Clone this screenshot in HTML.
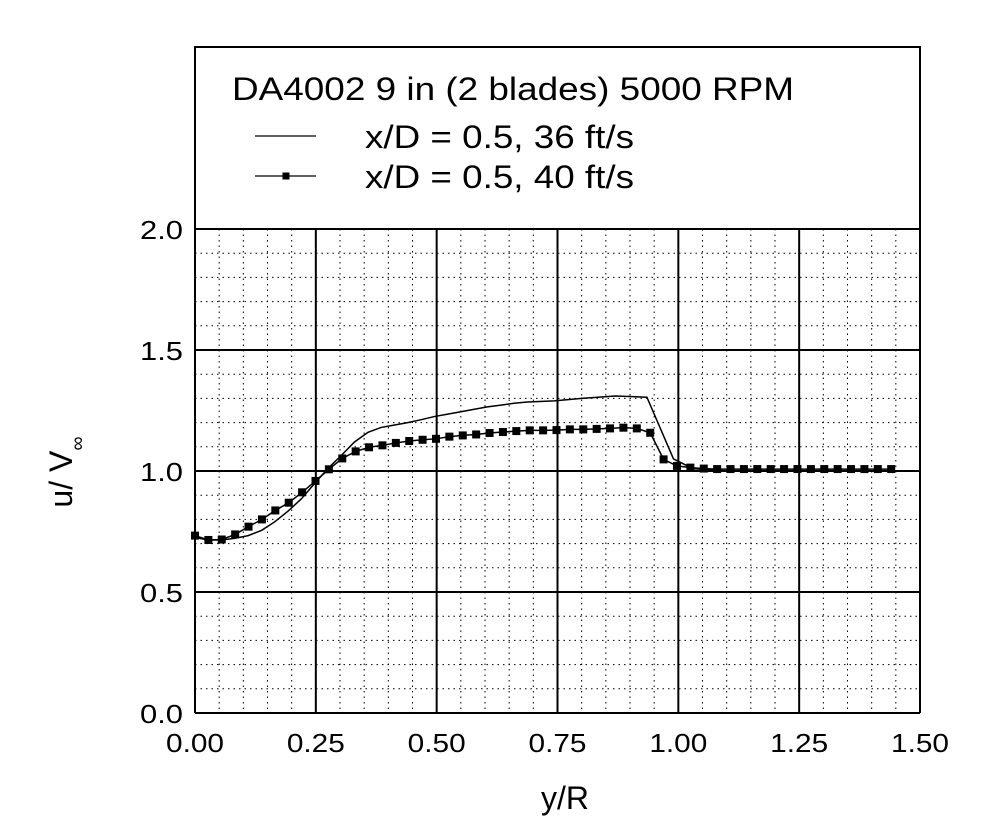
<!DOCTYPE html>
<html><head><meta charset="utf-8"><style>
html,body{margin:0;padding:0;background:#fff;}
svg{display:block;font-family:"Liberation Sans",sans-serif;}
</style></head><body>
<svg id="chart" width="986" height="829" viewBox="0 0 986 829" xmlns="http://www.w3.org/2000/svg">
<rect x="195" y="47" width="725" height="182" fill="#fff" stroke="#000" stroke-width="2"/>
<text x="232" y="100" font-size="32" textLength="562" lengthAdjust="spacingAndGlyphs">DA4002 9 in (2 blades) 5000 RPM</text>
<line x1="255" y1="136" x2="316" y2="136" stroke="#000" stroke-width="1.3"/>
<text x="365" y="148" font-size="32" textLength="269" lengthAdjust="spacingAndGlyphs">x/D = 0.5, 36 ft/s</text>
<line x1="255" y1="176" x2="316" y2="176" stroke="#000" stroke-width="1.3"/>
<rect x="282.5" y="172.5" width="7" height="7" fill="#000"/>
<text x="365" y="188" font-size="32" textLength="269" lengthAdjust="spacingAndGlyphs">x/D = 0.5, 40 ft/s</text>
<g id="grid"></g>
<g id="series"></g>
<g id="ticks"></g>
<text x="565" y="809" font-size="32" text-anchor="middle">y/R</text>
<g transform="translate(72,472) rotate(-90)">
<text x="0" y="0" font-size="32" text-anchor="middle">u/ V<tspan font-size="20" dy="12">∞</tspan></text>
</g>
</svg>
<script>
const xTicks=[0,0.25,0.5,0.75,1.0,1.25,1.5];
const xTickLabels=["0.00","0.25","0.50","0.75","1.00","1.25","1.50"];
const yTicks=[0,0.5,1.0,1.5,2.0];
const yTickLabels=["0.0","0.5","1.0","1.5","2.0"];
const line36X=[0,0.0275,0.055,0.083,0.11,0.138,0.165,0.193,0.22,0.248,0.275,0.303,0.33,0.358,0.385,0.413,0.44,0.468,0.495,0.523,0.55,0.578,0.605,0.633,0.66,0.688,0.743,0.80,0.87,0.935,0.99,1.03,1.1,1.44];
const line36Y=[0.725,0.715,0.715,0.722,0.733,0.755,0.79,0.835,0.885,0.95,1.01,1.065,1.12,1.16,1.18,1.19,1.20,1.212,1.225,1.235,1.245,1.255,1.265,1.272,1.28,1.285,1.29,1.30,1.31,1.305,1.05,1.01,1.0,1.0];
const marker40Y=[0.733,0.715,0.717,0.738,0.770,0.800,0.837,0.869,0.912,0.959,1.007,1.052,1.081,1.098,1.106,1.116,1.124,1.129,1.133,1.142,1.147,1.151,1.157,1.161,1.165,1.168,1.168,1.169,1.172,1.172,1.174,1.176,1.179,1.176,1.158,1.048,1.021,1.014,1.010,1.008,1.008,1.008,1.008,1.008,1.008,1.008,1.008,1.008,1.008,1.008,1.008,1.008,1.008];
const marker40Step=0.0277;

const NS="http://www.w3.org/2000/svg";
const X0=195,X1=920,Y0=713,Y1=229;
const sx=v=>X0+(v-0)/(1.5)*(X1-X0);
const sy=v=>Y0-(v/2.0)*(Y0-Y1);
function mk(tag,attrs,parent){const e=document.createElementNS(NS,tag);for(const k in attrs)e.setAttribute(k,attrs[k]);parent.appendChild(e);return e;}
const grid=document.getElementById('grid'),series=document.getElementById('series'),ticks=document.getElementById('ticks');
for(let i=1;i<30;i++){const v=i*0.05;if(i%5===0)continue;
 const l=mk('line',{x1:sx(v),x2:sx(v),y1:Y1,y2:Y0,stroke:'#000','stroke-width':1,'stroke-dasharray':'1.5,4'},grid);
 
 }
for(let i=1;i<20;i++){const v=i*0.1;if(i%5===0)continue;
 const l=mk('line',{x1:X0,x2:X1,y1:sy(v),y2:sy(v),stroke:'#000','stroke-width':1,'stroke-dasharray':'1.5,4'},grid);
 
 }
xTicks.forEach((v,i)=>{
 const l=mk('line',{x1:sx(v),x2:sx(v),y1:Y1,y2:Y0,stroke:'#000','stroke-width':2},grid);
 
 
 const t=mk('text',{x:sx(v)-29,y:752,'font-size':26,textLength:58,lengthAdjust:'spacingAndGlyphs'},ticks);t.textContent=xTickLabels[i];
 
 });
yTicks.forEach((v,i)=>{
 const l=mk('line',{x1:X0,x2:X1,y1:sy(v),y2:sy(v),stroke:'#000','stroke-width':2},grid);
 
 
 const t=mk('text',{x:140,y:sy(v)+10,'font-size':26,textLength:43,lengthAdjust:'spacingAndGlyphs'},ticks);t.textContent=yTickLabels[i];
 
 });
const p36=mk('polyline',{points:line36X.map((x,i)=>sx(x)+','+sy(line36Y[i])).join(' '),fill:'none',stroke:'#000','stroke-width':1.5},series);


const p40=mk('polyline',{points:marker40Y.map((y,i)=>sx(i*marker40Step)+','+sy(y)).join(' '),fill:'none',stroke:'#000','stroke-width':1.5},series);


marker40Y.forEach((y,i)=>{const r=mk('rect',{x:sx(i*marker40Step)-4,y:sy(y)-4,width:8,height:8,fill:'#000'},series);
 
 });
</script>
</body></html>
